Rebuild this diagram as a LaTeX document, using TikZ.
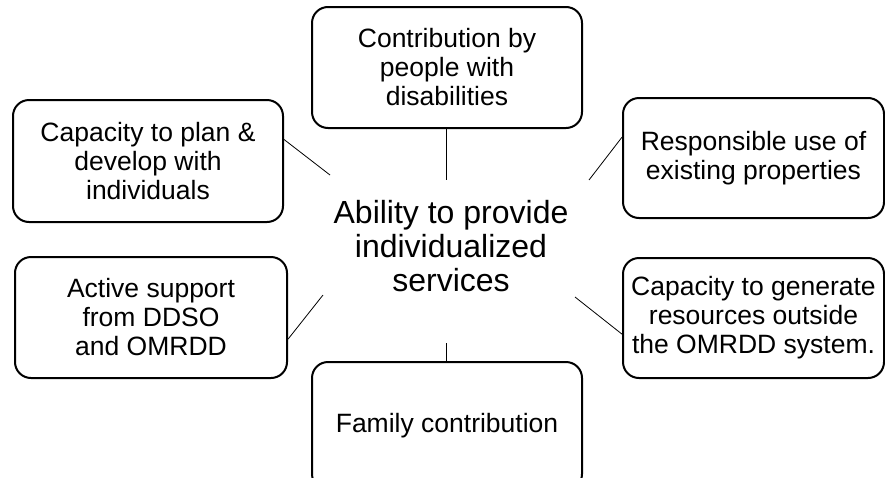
\documentclass[tikz,border=0pt]{standalone}
\usepackage{fontspec}
\setmainfont{Liberation Sans}
\begin{document}
\begin{tikzpicture}[x=1pt,y=-1pt,
  box/.style={draw=black,line width=2pt,rounded corners=16pt,inner sep=0pt,align=center,
    font=\fontsize{26.5}{29}\selectfont},
  link/.style={draw=black,line width=0.8pt}]
\useasboundingbox (0,0) rectangle (885,477);
\clip (0,0) rectangle (885,477);
\node[box,minimum width=270pt,minimum height=121pt] (top) at (447,67.5) {Contribution by\\people with\\disabilities};
\node[box,minimum width=261pt,minimum height=120pt] (rt) at (753.5,158) {Responsible use of\\existing properties};
\node[box,minimum width=261pt,minimum height=120pt] (rb) at (753.5,318) {Capacity to generate\\resources outside\\the OMRDD system.};
\node[box,minimum width=270pt,minimum height=128pt] (bot) at (447,426) {Family contribution};
\node[box,minimum width=270pt,minimum height=122pt] (lt) at (148,161) {Capacity to plan \&\\develop with\\individuals};
\node[box,minimum width=272pt,minimum height=121pt] (lb) at (151,317.5) {Active support\\from DDSO\\and OMRDD};
\node[align=center,inner sep=0pt,font=\fontsize{32}{34}\selectfont] (ctr) at (451,246) {Ability to provide\\individualized\\services};
\coordinate (c1) at (446,180);
\coordinate (c2) at (589,180);
\coordinate (c3) at (575,297);
\coordinate (c4) at (446,343);
\coordinate (c5) at (323,295);
\coordinate (c6) at (330,175);
\draw[link] (top.south -| c1) -- (c1);
\draw[link] (rt.171) -- (c2);
\draw[link] (rb.187) -- (c3);
\draw[link] (bot.north -| c4) -- (c4);
\draw[link] (lb.-9) -- (c5);
\draw[link] (lt.9) -- (c6);
\end{tikzpicture}
\end{document}
